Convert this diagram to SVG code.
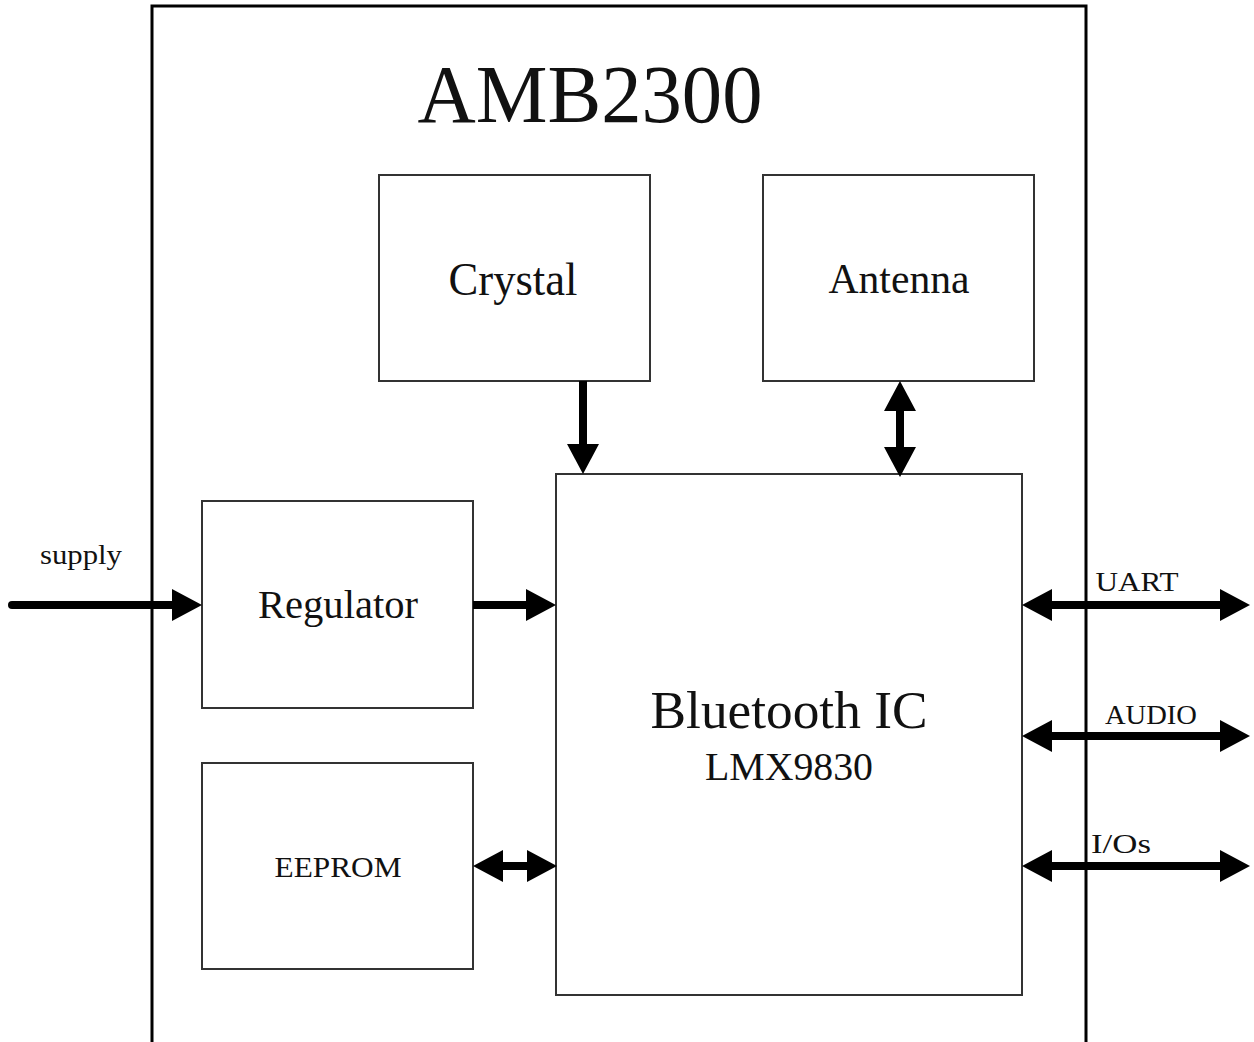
<svg xmlns="http://www.w3.org/2000/svg" width="1254" height="1042" viewBox="0 0 1254 1042">
<style>
.box{fill:#fff;stroke:#333;stroke-width:2}
.t{font-family:"Liberation Serif","Times New Roman",serif;fill:#111}
.c{stroke:#000;stroke-width:8;fill:none}
</style>
<defs>
<marker id="ah" markerUnits="userSpaceOnUse" viewBox="0 0 30 32" refX="0" refY="16" markerWidth="30" markerHeight="32" orient="auto-start-reverse">
<path d="M0,0 L30,16 L0,32 z" fill="#000"/>
</marker>
</defs>
<rect width="1254" height="1042" fill="#fff"/>
<g id="module">
<path d="M152,1042 V6 H1086 V1042" fill="none" stroke="#000" stroke-width="3"/>
<text class="t" x="590" y="122" font-size="82" text-anchor="middle" textLength="345" lengthAdjust="spacingAndGlyphs">AMB2300</text>
</g>
<g id="crystal">
<rect class="box" x="379" y="175" width="271" height="206"/>
<text class="t" x="513" y="295" font-size="46" text-anchor="middle" textLength="129" lengthAdjust="spacingAndGlyphs">Crystal</text>
</g>
<g id="antenna">
<rect class="box" x="763" y="175" width="271" height="206"/>
<text class="t" x="899" y="293" font-size="42" text-anchor="middle" textLength="141" lengthAdjust="spacingAndGlyphs">Antenna</text>
</g>
<g id="regulator">
<rect class="box" x="202" y="501" width="271" height="207"/>
<text class="t" x="338" y="618" font-size="41" text-anchor="middle" textLength="160" lengthAdjust="spacingAndGlyphs">Regulator</text>
</g>
<g id="eeprom">
<rect class="box" x="202" y="763" width="271" height="206"/>
<text class="t" x="338" y="877" font-size="30" text-anchor="middle" textLength="127" lengthAdjust="spacingAndGlyphs">EEPROM</text>
</g>
<g id="bluetooth">
<rect class="box" x="556" y="474" width="466" height="521"/>
<text class="t" x="789" y="728" font-size="53" text-anchor="middle" textLength="277" lengthAdjust="spacingAndGlyphs">Bluetooth IC</text>
<text class="t" x="789" y="780" font-size="40" text-anchor="middle" textLength="168" lengthAdjust="spacingAndGlyphs">LMX9830</text>
</g>
<g id="connectors">
<line class="c" x1="12" y1="605" x2="172" y2="605" stroke-linecap="round" marker-end="url(#ah)"/>
<line class="c" x1="473" y1="605" x2="526" y2="605" marker-end="url(#ah)"/>
<line class="c" x1="583" y1="381" x2="583" y2="444" marker-end="url(#ah)"/>
<line class="c" x1="900" y1="411" x2="900" y2="447" marker-start="url(#ah)" marker-end="url(#ah)"/>
<line class="c" x1="503" y1="866" x2="527" y2="866" marker-start="url(#ah)" marker-end="url(#ah)"/>
<line class="c" x1="1052" y1="605" x2="1220" y2="605" marker-start="url(#ah)" marker-end="url(#ah)"/>
<line class="c" x1="1052" y1="736" x2="1220" y2="736" marker-start="url(#ah)" marker-end="url(#ah)"/>
<line class="c" x1="1052" y1="866" x2="1220" y2="866" marker-start="url(#ah)" marker-end="url(#ah)"/>
<text class="t" x="81" y="564" font-size="28" text-anchor="middle" textLength="82" lengthAdjust="spacingAndGlyphs">supply</text>
<text class="t" x="1137" y="591" font-size="27" text-anchor="middle" textLength="83" lengthAdjust="spacingAndGlyphs">UART</text>
<text class="t" x="1151" y="724" font-size="27" text-anchor="middle" textLength="92" lengthAdjust="spacingAndGlyphs">AUDIO</text>
<text class="t" x="1121" y="853" font-size="27" text-anchor="middle" textLength="60" lengthAdjust="spacingAndGlyphs">I/Os</text>
</g>
</svg>
